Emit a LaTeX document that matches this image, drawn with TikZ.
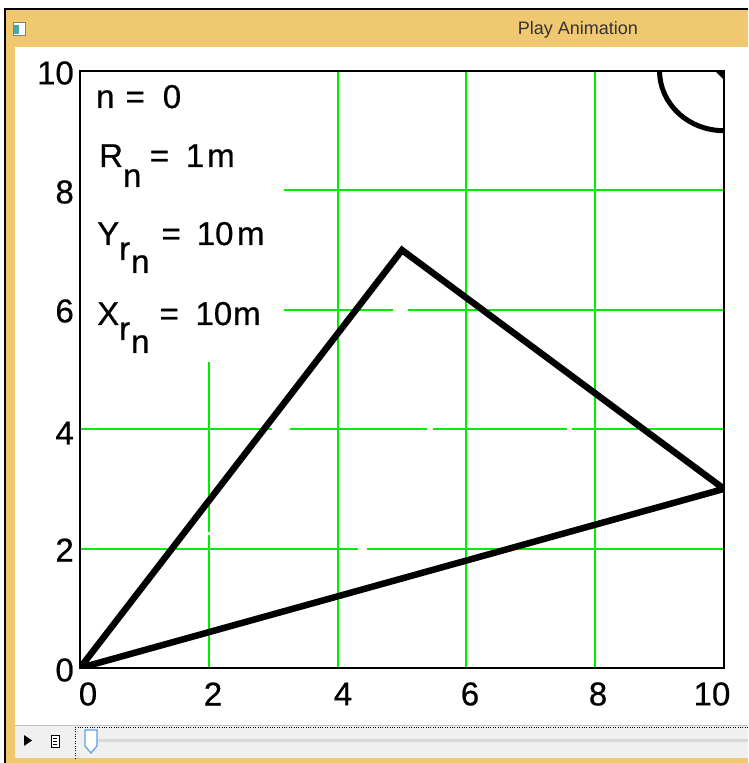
\documentclass[tikz,border=0pt]{standalone}
\usepackage{fontspec}
\setmainfont{Liberation Sans}
\definecolor{framebar}{HTML}{F0C870}
\definecolor{gridgreen}{HTML}{00EE00}
\definecolor{toolgray}{HTML}{F0F0F0}
\definecolor{thumbblue}{HTML}{5AA0E6}
\tikzset{
  gridline/.style={gridgreen, line width=2pt},
  curve/.style={black, line width=6.5pt, line join=miter},
  ticklbl/.style={inner sep=0pt, font=\fontsize{33}{33}\selectfont\addfontfeature{FakeBold=0.6}},
  readout/.style={inner sep=0pt, anchor=base west, font=\fontsize{33}{33}\selectfont\addfontfeature{FakeBold=0.6}},
}

\begin{document}
\begin{tikzpicture}[x=1pt, y=1pt, line cap=butt]
  \useasboundingbox (0,0) rectangle (748,763);
  % window frame and title bar
  \fill[white] (0,0) rectangle (748,763);
  \fill[framebar] (5,0) rectangle (748,753);
  \fill[white] (15,5) rectangle (748,716);
  \draw[black, line width=2pt] (5,0) -- (5,753.5) -- (748,753.5);
  % title bar icon
  \draw[gray, fill=white] (13,728) rectangle (25,741);
  \fill[teal!70] (14,729) rectangle (19,738);
  \node[font=\fontsize{18}{18}\selectfont, text=black!80] (title) at (578,733) {Play Animation};

  % toolbar with slider
  \fill[toolgray] (15,5) rectangle (748,38);
  \draw[gray!50] (15,38) -- (748,38);
  \fill[black] (24,17) -- (24,28) -- (32,22.5) -- cycle;
  \draw[black, fill=white] (51,16) rectangle (59,28);
  \foreach \ln in {19,22,25}
    \draw[black] (53,\ln) -- (57,\ln);
  \draw[black, dotted] (75,5) -- (75,36) -- (748,36);
  \draw[gray!30, line width=3pt] (90,22) -- (748,22);
  \draw[thumbblue, fill=white, line width=1.2pt] (85,33) -- (97,33) -- (97,17) -- (91,10) -- (85,17) -- cycle;

  % plot area: origin at (80,95), one unit = 64.4pt across, 59.7pt up
  \begin{scope}[shift={(80,95)}, x=64.4pt, y=59.7pt]
    % green grid, broken where the readout text sat
    \draw[gridline] (3.17,8) -- (10,8);
    \draw[gridline] (3.17,6) -- (4.86,6) (5.09,6) -- (10,6);
    \draw[gridline] (0,4) -- (2.98,4) (3.26,4) -- (5.39,4) (5.48,4) -- (7.56,4) (7.64,4) -- (10,4);
    \draw[gridline] (0,2) -- (4.32,2) (4.46,2) -- (10,2);
    \draw[gridline] (2,0) -- (2,2.23) (2,2.28) -- (2,5.13);
    \foreach \gx in {4,6,8}
      \draw[gridline] (\gx,0) -- (\gx,10);

    \begin{scope}
      \clip (0,0) rectangle (10,10);
      % triangle
      \coordinate (P0) at (0,0);
      \coordinate (P1) at (5,7);
      \coordinate (P2) at (10,3);
      \draw[curve] (P0) -- (P1) -- (P2) -- cycle;
      % circle of radius R round the corner point
      \coordinate (C) at (10,10);
      \draw[black, line width=5pt] (C) circle [radius=1];
      \fill[black] (C) -- (9.86,10) -- (10,9.85) -- cycle;
    \end{scope}

    \draw[black, line width=2pt] (0,0) rectangle (10,10);
  \end{scope}

  % axis numbers
  \foreach \v/\py in {10/690,8/571,6/452,4/330,2/213,0/93}
    \node[ticklbl, anchor=east] (yt\v) at (74,\py) {\v};
  \foreach \v/\px in {0/88,2/213,4/343,6/470,8/598,10/712}
    \node[ticklbl] (xt\v) at (\px,69) {\v};

  % readouts
  \node[readout] (nread) at (96,655) {n\hspace{11pt}=\hspace{18pt}0};
  \node[readout] (rread) at (99,596) {R\raisebox{-20pt}{n}\hspace{8.5pt}=\hspace{16.7pt}1\hspace{3pt}m};
  \node[readout] (yread) at (97,518) {Y\raisebox{-15pt}{r\hspace{1pt}\raisebox{-13pt}{n}}\hspace{12pt}=\hspace{16pt}10\hspace{3.5pt}m};
  \node[readout] (xread) at (97,438) {X\raisebox{-15pt}{r\hspace{1pt}\raisebox{-13pt}{n}}\hspace{10pt}=\hspace{16.7pt}10\hspace{1pt}m};
\end{tikzpicture}
\end{document}
